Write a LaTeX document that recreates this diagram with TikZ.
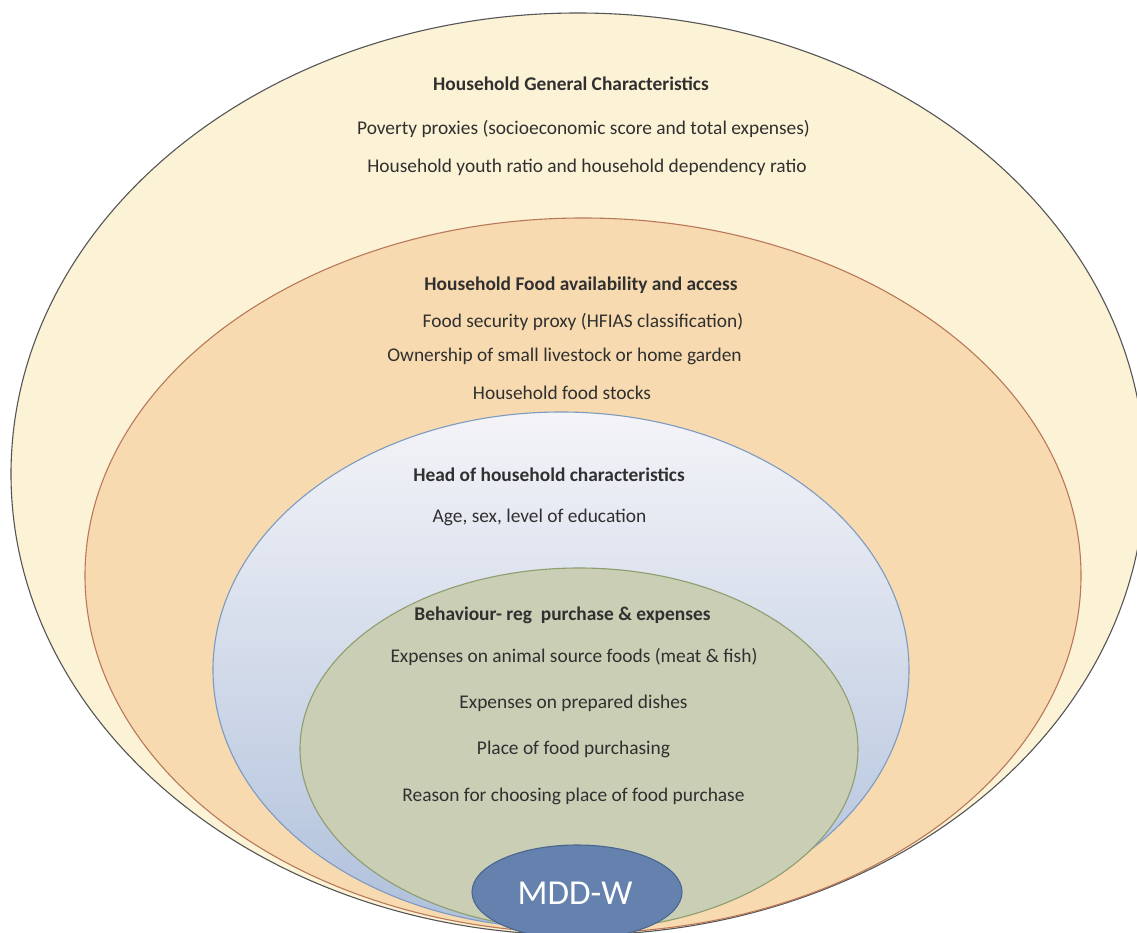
\documentclass[tikz,border=0pt]{standalone}
\usepackage{fontspec}
\setmainfont{Carlito}
\usetikzlibrary{shapes.geometric}
\definecolor{creamfill}{HTML}{FCF2D6}
\definecolor{creamline}{HTML}{555555}
\definecolor{orangefill}{HTML}{F8DAB0}
\definecolor{orangeline}{HTML}{B9785A}
\definecolor{bluetop}{HTML}{F4F4F8}
\definecolor{bluebot}{HTML}{AFC0DB}
\definecolor{blueline}{HTML}{7C9AC2}
\definecolor{greenfill}{HTML}{C9CEB5}
\definecolor{greenline}{HTML}{8E9E6E}
\definecolor{mddfill}{HTML}{6482AD}
\definecolor{mddline}{HTML}{4A6690}
\definecolor{txt}{HTML}{303030}
\tikzset{
  ring/.style={ellipse, inner sep=0pt, line width=1.1pt},
  head/.style={font=\fontsize{19.4}{22}\selectfont\bfseries, text=txt, inner sep=0pt},
  item/.style={font=\fontsize{19.4}{22}\selectfont, text=txt, inner sep=0pt}
}
\begin{document}
\begin{tikzpicture}[x=1pt,y=-1pt]
\clip (0,0) rectangle (1137,933);
\fill[white] (0,0) rectangle (1137,933);
\node[ring, draw=creamline, fill=creamfill, minimum width=1134pt, minimum height=922pt] (outer) at (578,474) {};
\node[ring, draw=orangeline, fill=orangefill, minimum width=996pt, minimum height=715pt] (food) at (583,575.5) {};
\node[ring, draw=blueline, top color=bluetop, bottom color=bluebot, minimum width=696pt, minimum height=516pt] (headring) at (561,670) {};
\node[ring, draw=greenline, fill=greenfill, minimum width=558pt, minimum height=362pt] (behav) at (579,749) {};
\node[ring, draw=mddline, fill=mddfill, minimum width=210pt, minimum height=94pt] (mdd) at (577,892) {};
\node[text=white, font=\fontsize{35}{40}\selectfont, inner sep=0pt] (mddtext) at (575,893) {MDD-W};

\node[head] (t1) at (571,84) {Household General Characteristics};
\node[item] (t2) at (583.5,129) {Poverty proxies (socioeconomic score and total expenses)};
\node[item] (t3) at (587,167) {Household youth ratio and household dependency ratio};

\node[head] (f1) at (581,285) {Household Food availability and access};
\node[item] (f2) at (583,322) {Food security proxy (HFIAS classification)};
\node[item] (f3) at (564.5,356) {Ownership of small livestock or home garden};
\node[item] (f4) at (562,393) {Household food stocks};

\node[head] (h1) at (549,475) {Head of household characteristics};
\node[item] (h2) at (539.5,517) {Age, sex, level of education};

\node[head] (b1) at (562.5,615) {Behaviour- reg\ \ purchase \& expenses};
\node[item] (b2) at (574,657) {Expenses on animal source foods (meat \& fish)};
\node[item] (b3) at (573.5,703) {Expenses on prepared dishes};
\node[item] (b4) at (573.5,749) {Place of food purchasing};
\node[item] (b5) at (573.5,796) {Reason for choosing place of food purchase};
\end{tikzpicture}
\end{document}
